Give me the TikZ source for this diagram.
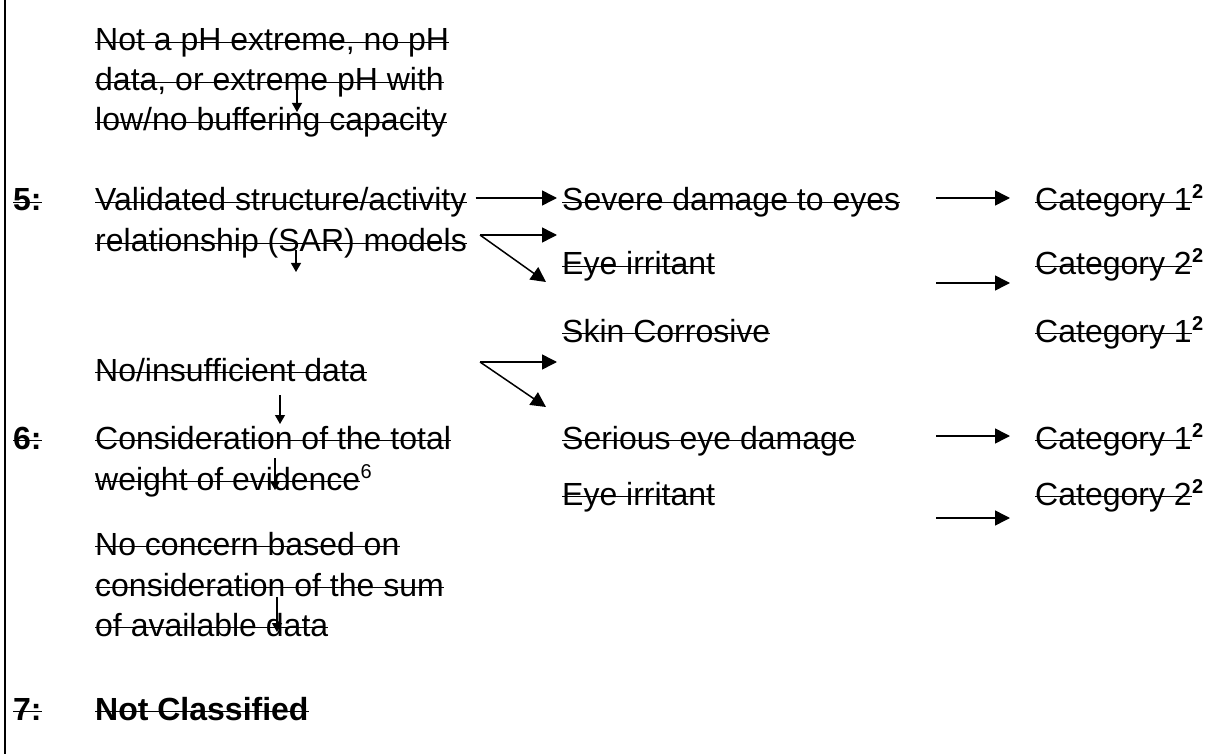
\documentclass[tikz,border=0pt]{standalone}
\usepackage{fontspec}
\setmainfont{Liberation Sans}
\usetikzlibrary{arrows.meta}
\tikzset{
  txt/.style={anchor=base west, inner sep=0pt, font=\fontsize{32}{40}\selectfont,
    append after command={([yshift=8.5pt]\tikzlastnode.base west) edge[line width=1.8pt] ([yshift=8.5pt]\tikzlastnode.base east)}},
  num/.style={txt, font=\fontsize{32}{40}\selectfont\bfseries},
  supr/.style={anchor=base west, inner sep=0pt, font=\fontsize{20}{24}\selectfont},
  arr/.style={line width=1.5pt, -{Triangle[length=15pt,width=15pt]}},
  dnarr/.style={line width=1.2pt, -{Triangle[length=9pt,width=10pt]}}
}
\begin{document}
\begin{tikzpicture}[x=1pt,y=-1pt]
    \path[use as bounding box] (0,0) rectangle (1216,754);
    \draw[line width=2pt]
        (5,0) -- (5,754);
    % left column
    \node[txt] (phA) at (95,51) {Not a pH extreme, no pH};
    \node[txt] (phB) at (95,91) {data, or extreme pH with};
    \node[txt] (phC) at (95,131) {low/no buffering capacity};
    \node[num] (step5) at (13,211) {5:};
    \node[txt] (valid) at (95,211) {Validated structure/activity};
    \node[txt] (sar) at (95,252) {relationship (SAR) models};
    \node[txt] (noinsuf) at (95,381) {No/insufficient data};
    \node[num] (step6) at (13,449) {6:};
    \node[txt] (consid) at (95,449) {Consideration of the total};
    \node[txt] (woe) at (95,490) {weight of evidence};
    \node[supr] (woes) at ([yshift=12pt]woe.base east) {6};
    \node[txt] (noconA) at (95,555) {No concern based on};
    \node[txt] (noconB) at (95,596) {consideration of the sum};
    \node[txt] (noconC) at (95,636) {of available data};
    \node[num] (step7) at (13,720) {7:};
    \node[num] (notcl) at (95,720) {Not Classified};
    % middle column
    \node[txt] (severe) at (562,211) {Severe damage to eyes};
    \node[txt] (irritA) at (562,275) {Eye irritant};
    \node[txt] (skin) at (562,342) {Skin Corrosive};
    \node[txt] (serious) at (562,449) {Serious eye damage};
    \node[txt] (irritB) at (562,505) {Eye irritant};
    % categories
    \node[txt] (catA) at (1035,211) {Category 1};
    \node[txt] (catB) at (1035,275) {Category 2};
    \node[txt] (catC) at (1035,342) {Category 1};
    \node[txt] (catD) at (1035,449) {Category 1};
    \node[txt] (catE) at (1035,505) {Category 2};
    \foreach \c in {catA,catB,catC,catD,catE}
        \node[supr, font=\fontsize{20}{24}\selectfont\bfseries] (\c s) at ([yshift=12pt]\c.base east) {2};
    % arrow ends
    \coordinate (forkA) at (480,235);
    \coordinate (forkB) at (480,362);
    \coordinate (upA) at (557,235);
    \coordinate (loA) at (546,282);
    \coordinate (upB) at (557,362);
    \coordinate (loB) at (546,407);
    \draw[arr]
        ([xshift=9pt,yshift=13pt]valid.base east) -- ([xshift=-5pt,yshift=13pt]severe.base west);
    \draw[arr]
        (forkA) -- (upA);
    \draw[arr]
        (forkA) -- (loA);
    \draw[arr]
        (forkB) -- (upB);
    \draw[arr]
        (forkB) -- (loB);
    \draw[arr]
        ([xshift=-99pt,yshift=13pt]catA.base west) -- ([xshift=-25pt,yshift=13pt]catA.base west);
    \draw[arr]
        ([xshift=-99pt,yshift=-8pt]catB.base west) -- ([xshift=-25pt,yshift=-8pt]catB.base west);
    \draw[arr]
        ([xshift=-99pt,yshift=13pt]catD.base west) -- ([xshift=-25pt,yshift=13pt]catD.base west);
    \draw[arr]
        ([xshift=-99pt,yshift=-13pt]catE.base west) -- ([xshift=-25pt,yshift=-13pt]catE.base west);
    % down arrows
    \draw[dnarr]
        (297,88) -- (297,112);
    \draw[dnarr]
        (296,250) -- (296,272);
    \draw[dnarr]
        (280,395) -- (280,424);
    \draw[dnarr]
        (275,458) -- (275,490);
    \draw[dnarr]
        (277,597) -- (277,632);
\end{tikzpicture}
\end{document}
